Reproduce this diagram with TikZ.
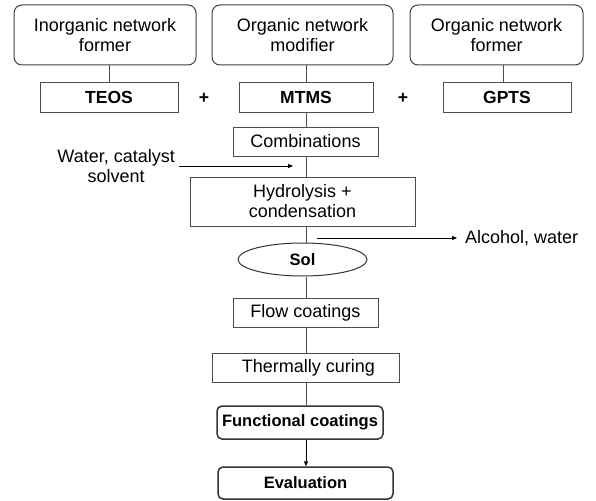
\documentclass[tikz,border=0pt]{standalone}
\usepackage{fontspec}
\setmainfont{Liberation Sans}
\usetikzlibrary{shapes.geometric,arrows.meta}
\begin{document}
\begin{tikzpicture}[x=1pt,y=-1pt,
  every node/.style={font=\fontsize{18}{20}\selectfont, inner sep=0pt, align=center, text=black},
  topbox/.style={draw=black!75, line width=1pt, rounded corners=8pt, minimum height=60pt},
  rbox/.style={draw=black!70, line width=0.8pt, minimum height=29pt},
  bbox/.style={draw=black!80, line width=1.5pt, rounded corners=5pt, minimum height=32pt, font=\fontsize{16.5}{19}\selectfont\bfseries},
  bold/.style={font=\fontsize{16.5}{19}\selectfont\bfseries},
  bigbold/.style={font=\fontsize{17.5}{20}\selectfont\bfseries},
  conn/.style={draw=black!70, line width=0.8pt},
  arr/.style={draw=black, line width=0.8pt, -{Triangle[length=5pt,width=4pt]}}
]
\useasboundingbox (0,0) rectangle (596,500);

\node[topbox, minimum width=182pt] (f1) at (105,35) {Inorganic network\\former};
\node[topbox, minimum width=181pt] (f2) at (302.5,35) {Organic network\\modifier};
\node[topbox, minimum width=173pt] (f3) at (496.5,35) {Organic network\\former};

\node[rbox, bigbold, minimum width=138pt, minimum height=30pt] (teos) at (109,97) {TEOS};
\node[rbox, bigbold, minimum width=134pt, minimum height=30pt] (mtms) at (306,97) {MTMS};
\node[rbox, bigbold, minimum width=128pt, minimum height=30pt] (gpts) at (507,97) {GPTS};
\node[bigbold] (p1) at (204,98) {+};
\node[bigbold] (p2) at (403,98) {+};

\node[rbox, minimum width=145pt] (comb) at (305.5,141.5) {Combinations};
\node[rbox, minimum width=225pt, minimum height=49pt] (hyd) at (302.5,201.5) {Hydrolysis +\\condensation};
\node[ellipse, draw=black!80, line width=1pt, minimum width=129pt, minimum height=33pt, bold] (sol) at (302.5,259.5) {Sol};
\node[rbox, minimum width=145pt] (flow) at (305.5,312.5) {Flow coatings};
\node[rbox, minimum width=187pt] (therm) at (305.5,367.5) {\hspace*{6pt}Thermally curing};
\node[bbox, minimum width=166pt, minimum height=33pt] (func) at (300,422.5) {Functional coatings};
\node[bbox, minimum width=175pt] (eval) at (305.5,483) {Evaluation};

% top connectors
\draw[conn] (teos.north) -- (teos.north |- f1.south);
\draw[conn] (mtms.north) -- (mtms.north |- f2.south);
\coordinate (g3top) at ([xshift=7pt]f3.south);
\draw[conn] (f3.south -| g3top) -- (gpts.north -| g3top);

% main axis
\draw[conn] (mtms.south) -- (mtms.south |- comb.north);
\draw[conn] (mtms.south |- comb.south) -- (mtms.south |- hyd.north);
\draw[conn] (mtms.south |- hyd.south) -- (mtms.south |- sol.north);
\draw[conn] (mtms.south |- sol.south) -- (mtms.south |- flow.north);
\draw[conn] (mtms.south |- flow.south) -- (mtms.south |- therm.north);
\draw[conn] (mtms.south |- therm.south) -- (mtms.south |- func.north);
\draw[arr] (mtms.south |- func.south) -- (mtms.south |- eval.north);

% side inputs / outputs
\coordinate (win) at (179,166);
\coordinate (wend) at (293,166);
\node[anchor=east] (water) at (175,166) {Water, catalyst\\solvent};
\draw[arr] (win) -- (wend);

\coordinate (aout) at (317,238);
\node[anchor=west] (alc) at (465,238) {Alcohol, water};
\draw[arr] (aout) -- ([xshift=-8pt]alc.west);
\end{tikzpicture}
\end{document}
